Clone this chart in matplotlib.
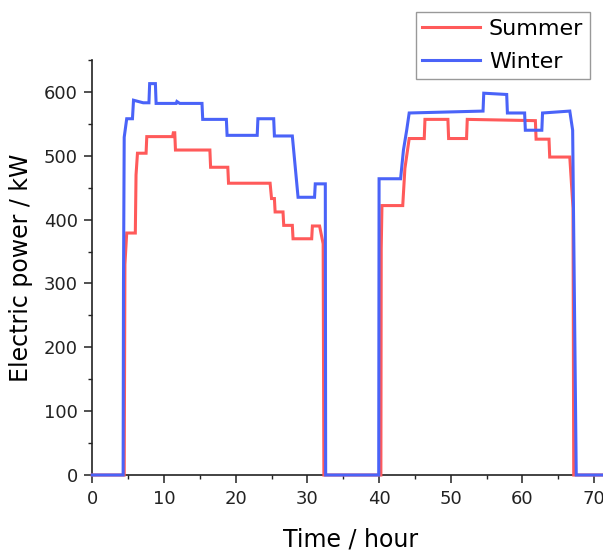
import matplotlib
matplotlib.use("Agg")
import matplotlib.pyplot as plt
from matplotlib.ticker import MultipleLocator

# Data (time in hours, electric power in kW)
summer_time = [0, 4.45, 4.55, 4.8, 6.0, 6.1, 6.3, 7.5, 7.6, 11.2, 11.3, 11.5, 11.6,
               16.4, 16.5, 18.9, 19.0, 24.8, 25.0, 25.4, 25.5, 26.6, 26.7, 27.9, 28.0,
               30.6, 30.7, 31.7, 32.2, 32.3, 40.25, 40.3, 40.4, 43.3, 43.6, 44.2,
               46.3, 46.4, 49.6, 49.7, 52.2, 52.3, 61.8, 61.9, 63.7, 63.8, 66.6,
               67.05, 67.15, 72]
summer_power = [0, 0, 330, 379, 379, 470, 504, 504, 530, 530, 536, 536, 509,
                509, 482, 482, 457, 457, 433, 433, 412, 412, 391, 391, 370,
                370, 390, 390, 362, 0, 0, 355, 422, 422, 480, 527,
                527, 557, 557, 527, 527, 557, 555, 526, 526, 498, 498,
                418, 0, 0]

winter_time = [0, 4.3, 4.35, 4.45, 4.8, 5.6, 5.75, 7.1, 7.9, 8.0, 8.8, 8.9, 11.7,
               11.8, 12.2, 15.3, 15.4, 18.7, 18.8, 23.0, 23.1, 25.3, 25.4, 27.9,
               28.7, 31.0, 31.1, 32.5, 32.55, 39.95, 40.0, 43.0, 43.4, 43.85, 44.2,
               54.5, 54.6, 57.8, 57.9, 60.3, 60.4, 62.7, 62.8, 66.6, 67.0, 67.5, 72]
winter_power = [0, 0, 300, 529, 558, 558, 587, 583, 583, 613, 613, 582, 582,
                585, 582, 582, 557, 557, 532, 532, 558, 558, 531, 531,
                435, 435, 456, 456, 0, 0, 464, 464, 509, 540, 567,
                570, 598, 596, 567, 567, 540, 540, 567, 570, 540, 0, 0]

x_ticks = [0, 10, 20, 30, 40, 50, 60, 70]
y_ticks = [0, 100, 200, 300, 400, 500, 600]

fig = plt.figure(figsize=(6.03, 5.5), dpi=100)
ax = fig.add_axes([92.3 / 603, 75 / 550, 516.2 / 603, 415 / 550])

red = "#FF5A5A"
blue = "#4A63F8"
ax.plot(summer_time, summer_power, color=red, lw=2.2, label="Summer",
        clip_on=False, zorder=3, solid_joinstyle="miter")
ax.plot(winter_time, winter_power, color=blue, lw=2.2, label="Winter",
        clip_on=False, zorder=4, solid_joinstyle="miter")

ax.set_xlim(0, 72)
ax.set_ylim(0, 650)
ax.set_xticks(x_ticks)
ax.set_yticks(y_ticks)
ax.xaxis.set_minor_locator(MultipleLocator(5))
ax.yaxis.set_minor_locator(MultipleLocator(50))

for s in ["top", "right"]:
    ax.spines[s].set_visible(False)
for s in ["left", "bottom"]:
    ax.spines[s].set_linewidth(1.2)
    ax.spines[s].set_color("#222222")

ax.tick_params(which="major", direction="out", length=5.5, width=1.1,
               labelsize=13, pad=5, colors="#222222")
ax.tick_params(which="minor", direction="out", length=3, width=1.0,
               colors="#222222")

ax.set_xlabel("Time / hour", fontsize=17, labelpad=14)
ax.set_ylabel("Electric power / kW", fontsize=17, labelpad=8)

leg = ax.legend(loc="upper right", bbox_to_anchor=(590 / 603, 1 - 12 / 550),
                bbox_transform=fig.transFigure, fontsize=16, frameon=True,
                fancybox=False, edgecolor="#999999", framealpha=1,
                handlelength=2.6, handletextpad=0.4, borderpad=0.3,
                labelspacing=0.6, borderaxespad=0)
leg.get_frame().set_linewidth(1.0)

fig.savefig("out.png", dpi=100)
